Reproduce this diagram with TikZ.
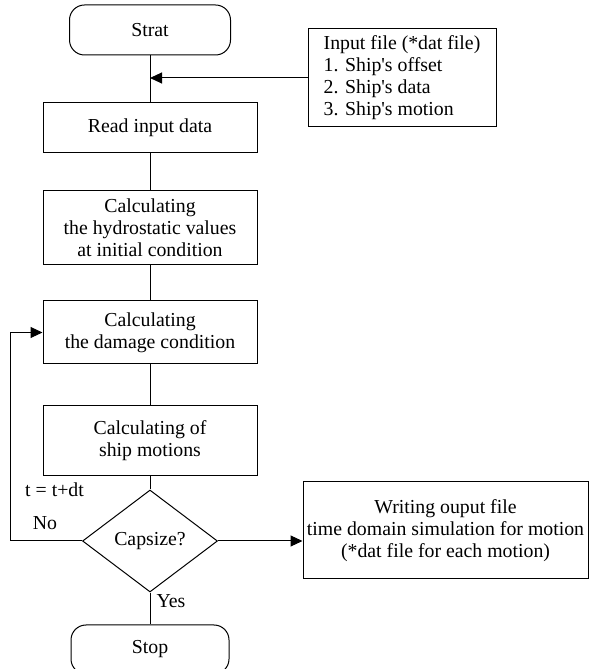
\documentclass[tikz,border=0pt]{standalone}
\usepackage{fontspec}
\setmainfont{Liberation Serif}
\usepackage{tikz}
\usetikzlibrary{shapes,arrows.meta,positioning}
\tikzstyle{block} = [rectangle, draw, line width=1pt, text centered, align=center, minimum width=214pt, font=\fontsize{19.8}{22}\selectfont]
\tikzstyle{terminal} = [rectangle, rounded corners=15pt, draw, line width=1pt, text centered, minimum height=50pt, font=\fontsize{19.8}{22}\selectfont]
\tikzstyle{decision} = [diamond, draw, line width=1pt, inner sep=0pt, aspect=1.32, minimum width=135pt, minimum height=102pt, font=\fontsize{19.8}{22}\selectfont]
\tikzstyle{note} = [inner sep=0pt, font=\fontsize{19.8}{22}\selectfont]
\tikzstyle{line} = [draw, line width=1pt]
\tikzstyle{arrow} = [line, -{Triangle[length=12pt,width=11pt]}]

\begin{document}
\begin{tikzpicture}[x=1pt,y=1pt]
    \useasboundingbox (0,0) rectangle (591,669);
    \node [terminal, minimum width=161pt] at (150,639) (start) {Strat};
    \node [block, minimum height=50pt, below=47pt of start] (read) {Read input data};
    \node [block, minimum height=74pt, below=37pt of read] (hydro) {Calculating\\the hydrostatic values\\at initial condition};
    \node [block, minimum height=63pt, below=35pt of hydro] (damage) {Calculating\\the damage condition};
    \node [block, minimum height=70pt, below=41pt of damage] (motion) {Calculating of\\ship motions};
    \node [decision, below=13pt of motion] (capsize) {Capsize?};
    \node [terminal, minimum width=158pt, minimum height=49pt, below=32pt of capsize] (stop) {Stop};

    % input file and output file
    \node [block, align=left, minimum width=188pt, minimum height=98pt] at (402,591) (input) {Input file (*dat file)\\1. Ship\textquotesingle s offset\\2. Ship\textquotesingle s data\\3. Ship\textquotesingle s motion};
    \node [block, minimum width=285pt, minimum height=97pt] at (445.5,138.5) (output) {Writing ouput file\\time domain simulation for motion\\(*dat file for each motion)};

    \draw[line](start) -- (read);
    \draw[arrow](input.west) -- (input.west -| start.south);
    \draw[line](read) -- (hydro);
    \draw[line](hydro) -- (damage);
    \draw[line](damage) -- (motion);
    \draw[line](motion) -- (capsize);
    \draw[line](capsize) -- (stop);
    \draw[arrow](capsize.west) -- ++(-72pt,0) |- (damage.west);
    \draw[arrow](capsize.east) -- (capsize.east -| output.west);

    \node [note, anchor=west] at (25,179) (step) {t = t+dt};
    \node [note] at (45,146) (no) {No};
    \node [note] at (171,68) (yes) {Yes};
\end{tikzpicture}
\end{document}
